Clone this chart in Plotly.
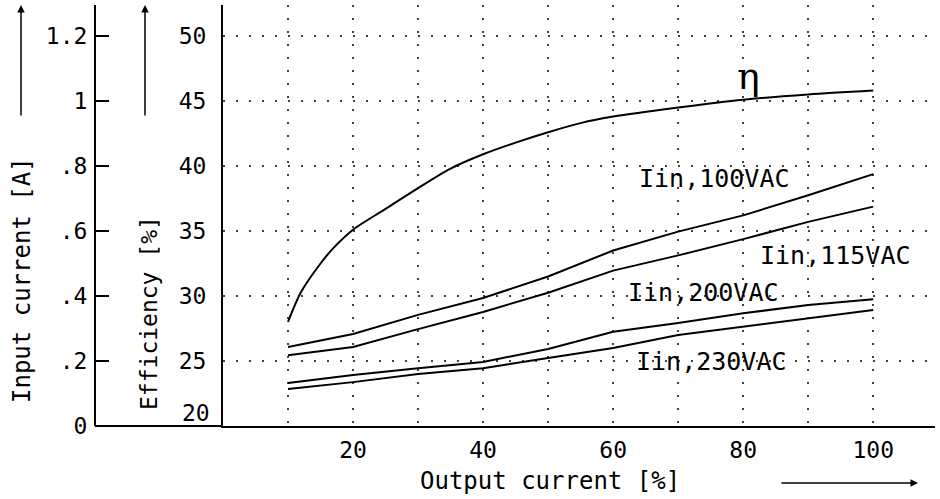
import plotly.graph_objects as go

# Output current [%]
x_eff = [10, 12, 15, 17, 20, 25, 30, 35, 40, 45, 50, 55, 60, 70, 80, 90, 100]
eff = [28.0, 30.3, 32.5, 33.7, 35.1, 36.7, 38.3, 39.8, 40.9, 41.8, 42.6, 43.3, 43.8, 44.5, 45.1, 45.5, 45.8]

x_in = [10, 20, 30, 40, 50, 60, 70, 80, 90, 100]
iin_100 = [0.243, 0.283, 0.342, 0.394, 0.460, 0.540, 0.598, 0.648, 0.710, 0.775]
iin_115 = [0.218, 0.243, 0.298, 0.351, 0.410, 0.478, 0.525, 0.575, 0.628, 0.675]
iin_200 = [0.132, 0.157, 0.178, 0.197, 0.237, 0.290, 0.317, 0.347, 0.372, 0.390]
iin_230 = [0.114, 0.135, 0.160, 0.178, 0.209, 0.240, 0.280, 0.305, 0.332, 0.357]

x_ticks = [10, 20, 30, 40, 50, 60, 70, 80, 90, 100, 110]
x_ticktext = ["", "20", "", "40", "", "60", "", "80", "", "100", ""]
eff_ticks = [25, 30, 35, 40, 45, 50]
iin_ticks = [0, 0.2, 0.4, 0.6, 0.8, 1.0, 1.2]
iin_ticktext = ["0", ".2", ".4", ".6", ".8", "1", "1.2"]

FONT = "DejaVu Sans Mono"
L, R, T, B = 95, 5, 5, 73
W, H = 940, 499
pw, ph = W - L - R, H - T - B

def px(xp):
    return (xp - L) / pw

def py(yp):
    return (H - B - yp) / ph

fig = go.Figure()
line = dict(color="black", width=2)
fig.add_trace(go.Scatter(x=x_eff, y=eff, mode="lines", line=dict(color="black", width=2, shape="spline", smoothing=0.8),
                         yaxis="y", showlegend=False))
for s in [iin_100, iin_115, iin_200, iin_230]:
    fig.add_trace(go.Scatter(x=x_in, y=s, mode="lines", line=line, yaxis="y2", showlegend=False))

eff_top = 20 + ph / 13.0
grid = dict(showgrid=True, gridcolor="rgba(0,0,0,0.75)", gridwidth=1.5, griddash="2px,11px")

fig.update_layout(
    width=W, height=H,
    margin=dict(l=L, r=R, t=T, b=B),
    paper_bgcolor="white", plot_bgcolor="white",
    font=dict(family=FONT, size=23, color="black"),
    xaxis=dict(domain=[px(223), 1], range=[0, 109.5], tickvals=x_ticks, ticktext=x_ticktext,
               showline=True, linecolor="black", linewidth=2, ticks="", zeroline=False,
               ticklabelstandoff=2, **grid),
    yaxis=dict(range=[20, eff_top], tickvals=eff_ticks, showline=True, linecolor="black", linewidth=2,
               ticks="", zeroline=False, ticklabelstandoff=10, **grid),
    yaxis2=dict(range=[0, (eff_top - 20) / 25.0], overlaying="y", anchor="free", position=0, side="left",
                tickvals=iin_ticks, ticktext=iin_ticktext, showline=True, linecolor="black", linewidth=2,
                ticks="inside", ticklen=13, tickwidth=2, tickcolor="black", showgrid=False, zeroline=False,
                ticklabelstandoff=2),
)

# bottom line between the two vertical axes
fig.add_shape(type="line", xref="paper", yref="paper", x0=0, x1=px(223), y0=0, y1=0,
              line=dict(color="black", width=2))

ann = []
# efficiency "20" label drawn slightly above the bottom
ann.append(dict(x=px(212), y=py(413), xref="paper", yref="paper", text="20", showarrow=False,
                xanchor="right", yanchor="middle", font=dict(size=23)))
# curve labels
labels = [("Iin,100VAC", 714, 178), ("Iin,115VAC", 835, 255), ("Iin,200VAC", 703, 292), ("Iin,230VAC", 711, 361)]
for t, xx, yy in labels:
    ann.append(dict(x=px(xx), y=py(yy), xref="paper", yref="paper", text=t, showarrow=False,
                    xanchor="center", yanchor="middle", font=dict(size=25)))
ann.append(dict(x=px(748), y=py(76), xref="paper", yref="paper", text="η", showarrow=False,
                xanchor="center", yanchor="middle", font=dict(size=38, family="DejaVu Serif")))
# axis titles
ann.append(dict(x=px(22), y=py(280), xref="paper", yref="paper", text="Input current [A]", showarrow=False,
                textangle=-90, xanchor="center", yanchor="middle", font=dict(size=24)))
ann.append(dict(x=px(149), y=py(313), xref="paper", yref="paper", text="Efficiency [%]", showarrow=False,
                textangle=-90, xanchor="center", yanchor="middle", font=dict(size=23)))
ann.append(dict(x=px(550), y=py(481), xref="paper", yref="paper", text="Output current [%]", showarrow=False,
                xanchor="center", yanchor="middle", font=dict(size=24)))
# arrows
for xx in [21, 145]:
    ann.append(dict(x=px(xx), y=py(5), xref="paper", yref="paper", ax=0, ay=112, axref="pixel", ayref="pixel",
                    text="", showarrow=True, arrowhead=2, arrowsize=1, arrowwidth=1.5, arrowcolor="black"))
ann.append(dict(x=px(918), y=py(483), xref="paper", yref="paper", ax=-138, ay=0, axref="pixel", ayref="pixel",
                text="", showarrow=True, arrowhead=2, arrowsize=1, arrowwidth=1.5, arrowcolor="black"))
fig.update_layout(annotations=ann)

fig.write_html("out.html")
